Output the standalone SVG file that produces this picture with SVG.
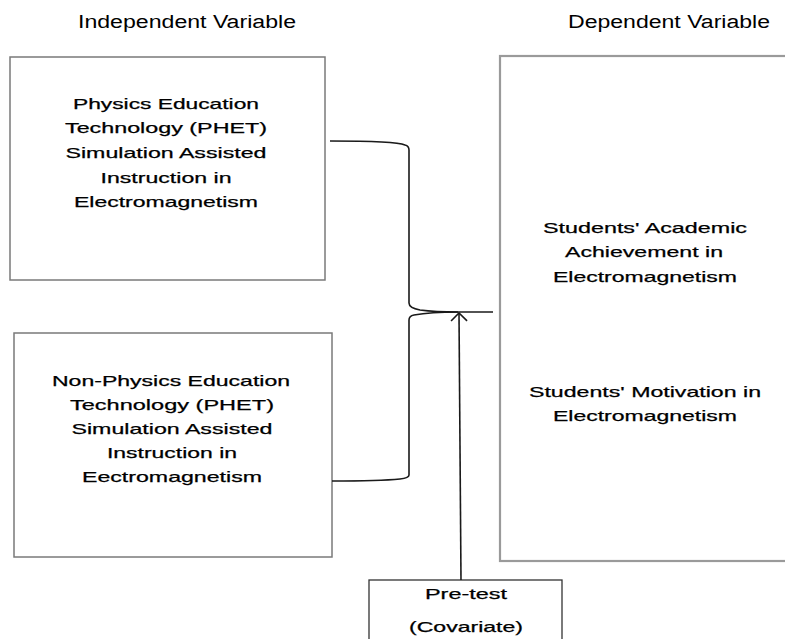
<svg xmlns="http://www.w3.org/2000/svg" width="785" height="639" viewBox="0 0 785 639">
<style>
.hdr{font-family:"Liberation Sans",Arial,sans-serif;font-size:18px;fill:#000}
.t{font-family:"Liberation Sans",Arial,sans-serif;font-size:15px;fill:#000;stroke:#000;stroke-width:0.25;text-anchor:middle}
.box{fill:#fff;stroke:#7a7a7a;stroke-width:1.5}
.rbox{fill:#fff;stroke:#9a9a9a;stroke-width:2.2}
.pbox{fill:#fff;stroke:#333;stroke-width:1.3}
.c{fill:none;stroke:#1a1a1a;stroke-width:1.6}
</style>
<defs>
<marker id="arr" viewBox="0 0 10 18" refX="9" refY="9" markerWidth="10" markerHeight="18" markerUnits="userSpaceOnUse" orient="auto">
<path d="M1,1 L9,9 L1,17" fill="none" stroke="#1a1a1a" stroke-width="1.6"/>
</marker>
</defs>
<rect width="785" height="639" fill="#fff"/>
<text class="hdr" x="78" y="28" textLength="218" lengthAdjust="spacingAndGlyphs">Independent Variable</text>
<text class="hdr" x="568" y="28" textLength="202" lengthAdjust="spacingAndGlyphs">Dependent Variable</text>

<g id="node-phet">
<rect class="box" x="10" y="57" width="315" height="223"/>
<text class="t" x="166" y="109" textLength="186" lengthAdjust="spacingAndGlyphs">Physics Education</text>
<text class="t" x="166" y="133" textLength="202" lengthAdjust="spacingAndGlyphs">Technology (PHET)</text>
<text class="t" x="166" y="158" textLength="201" lengthAdjust="spacingAndGlyphs">Simulation Assisted</text>
<text class="t" x="166" y="183" textLength="131" lengthAdjust="spacingAndGlyphs">Instruction in</text>
<text class="t" x="166" y="207" textLength="184" lengthAdjust="spacingAndGlyphs">Electromagnetism</text>
</g>

<g id="node-nonphet">
<rect class="box" x="14" y="333" width="318" height="224"/>
<text class="t" x="171" y="386" textLength="238" lengthAdjust="spacingAndGlyphs">Non-Physics Education</text>
<text class="t" x="172" y="410" textLength="204" lengthAdjust="spacingAndGlyphs">Technology (PHET)</text>
<text class="t" x="172" y="434" textLength="201" lengthAdjust="spacingAndGlyphs">Simulation Assisted</text>
<text class="t" x="172" y="458" textLength="130" lengthAdjust="spacingAndGlyphs">Instruction in</text>
<text class="t" x="172" y="482" textLength="180" lengthAdjust="spacingAndGlyphs">Eectromagnetism</text>
</g>

<g id="node-dependent">
<rect class="rbox" x="500" y="56" width="300" height="505"/>
<text class="t" x="645" y="233" textLength="204" lengthAdjust="spacingAndGlyphs">Students' Academic</text>
<text class="t" x="644" y="257" textLength="158" lengthAdjust="spacingAndGlyphs">Achievement in</text>
<text class="t" x="645" y="282" textLength="184" lengthAdjust="spacingAndGlyphs">Electromagnetism</text>
<text class="t" x="645" y="397" textLength="232" lengthAdjust="spacingAndGlyphs">Students' Motivation in</text>
<text class="t" x="645" y="421" textLength="184" lengthAdjust="spacingAndGlyphs">Electromagnetism</text>
</g>

<g id="node-pretest">
<rect class="pbox" x="369" y="580" width="193" height="70"/>
<text class="t" x="466" y="599" textLength="82" lengthAdjust="spacingAndGlyphs">Pre-test</text>
<text class="t" x="466" y="632" textLength="114" lengthAdjust="spacingAndGlyphs">(Covariate)</text>
</g>

<g id="connectors">
<path class="c" d="M330,141 C370,141 398,142 405,145 Q409,146 409,150 L409,303 Q409,308 420,310 C435,312 450,312 458,312"/>
<path class="c" d="M458,312 C445,312 425,313 414,315 Q409,316 409,320 L409,475 Q409,478 400,479 C380,481 352,481 332,481"/>
<path class="c" d="M458,312 L493,312"/>
<path class="c" d="M461,580 L459,313" marker-end="url(#arr)"/>
</g>
</svg>
